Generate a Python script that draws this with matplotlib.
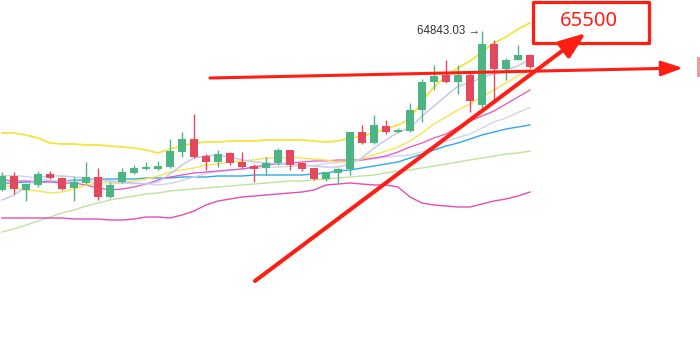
import numpy as np
import matplotlib.pyplot as plt
from matplotlib.patches import Rectangle

# candles (price)
open_ = [61660, 61940, 61660, 61760, 61980, 61900, 61700, 61800, 61920, 61520,
         61820, 62000, 62080, 62080, 62120, 62420, 62680, 62340, 62220, 62400,
         62220, 62140, 62100, 62200, 62460, 62200, 62100, 61880, 62000, 62080,
         62820, 62600, 62940, 62820, 62840, 63260, 63820, 63960, 63820, 63960,
         63360, 64580, 64080, 64260, 64360]
high = [62020, 62020, 61800, 62040, 62040, 61920, 61920, 62220, 62100, 61820,
        62100, 62160, 62220, 62240, 62680, 62820, 63180, 62380, 62460, 62420,
        62420, 62180, 62320, 62500, 62460, 62220, 62100, 62020, 62100, 62820,
        62960, 63160, 63060, 62900, 63400, 63880, 64160, 64260, 64160, 64020,
        64843.03, 64660, 64300, 64560, 64380]
low = [61640, 61580, 61440, 61720, 61880, 61660, 61440, 61780, 61460, 61500,
       61800, 61980, 62060, 62060, 62100, 62320, 62300, 62060, 62120, 62160,
       62100, 61820, 61960, 62160, 62060, 62040, 61860, 61840, 61800, 61960,
       62580, 62580, 62780, 62800, 62820, 63020, 63660, 63800, 63580, 63220,
       63300, 63420, 63860, 64260, 64100]
close = [61940, 61680, 61780, 61980, 61900, 61680, 61820, 61920, 61520, 61760,
         62020, 62100, 62120, 62140, 62440, 62680, 62320, 62220, 62380, 62200,
         62120, 62080, 62200, 62460, 62160, 62080, 61880, 62020, 62080, 62820,
         62600, 62960, 62820, 62860, 63260, 63820, 63940, 63820, 63960, 63440,
         64580, 64080, 64260, 64360, 64120]

# indicator lines
boll_up = [62800, 62800, 62760, 62700, 62600, 62580, 62580, 62560, 62560, 62540,
           62520, 62500, 62460, 62400, 62480, 62540, 62600, 62620, 62620, 62640,
           62640, 62640, 62660, 62660, 62660, 62660, 62640, 62620, 62640, 62700,
           62740, 62800, 62880, 62960, 63080, 63440, 63720, 63940, 64100, 64240,
           64420, 64600, 64720, 64880, 65000]
boll_mid = [61950, 61950, 61930, 61900, 61850, 61840, 61830, 61820, 61820, 61800,
            61790, 61790, 61790, 61760, 61790, 61850, 61920, 61990, 62030, 62060,
            62080, 62090, 62110, 62120, 62130, 62140, 62150, 62190, 62210, 62250,
            62260, 62280, 62320, 62340, 62360, 62420, 62540, 62640, 62710, 62780,
            62900, 63020, 63100, 63210, 63310]
boll_low = [61100, 61100, 61100, 61100, 61100, 61100, 61080, 61080, 61080, 61060,
            61060, 61080, 61120, 61120, 61100, 61160, 61240, 61360, 61440, 61480,
            61520, 61540, 61560, 61580, 61600, 61620, 61660, 61760, 61780, 61800,
            61780, 61760, 61760, 61720, 61520, 61400, 61360, 61340, 61320, 61320,
            61380, 61440, 61480, 61540, 61620]
ma5 = [61460, 61560, 61720, 61920, 61940, 61940, 61920, 61900, 61860, 61840,
       61820, 61800, 61780, 61820, 61980, 62160, 62300, 62340, 62360, 62320,
       62260, 62220, 62200, 62180, 62180, 62160, 62140, 62120, 62120, 62180,
       62300, 62500, 62660, 62820, 62900, 63140, 63340, 63540, 63740, 63800,
       63920, 63980, 64060, 64140, 64280]
ma10 = [61780, 61700, 61660, 61640, 61600, 61620, 61680, 61760, 61800, 61820,
        61820, 61840, 61880, 61940, 62020, 62060, 62100, 62160, 62180, 62220,
        62240, 62260, 62300, 62300, 62320, 62300, 62280, 62260, 62220, 62220,
        62280, 62360, 62440, 62520, 62640, 62800, 62980, 63120, 63260, 63380,
        63520, 63660, 63800, 63940, 64060]
ma20 = [61860, 61840, 61840, 61820, 61820, 61800, 61800, 61760, 61700, 61660,
        61680, 61720, 61780, 61860, 61920, 61960, 62000, 62020, 62040, 62060,
        62080, 62120, 62160, 62180, 62200, 62220, 62240, 62240, 62260, 62260,
        62260, 62300, 62340, 62420, 62520, 62600, 62700, 62780, 62920, 63040,
        63140, 63240, 63380, 63520, 63660]
ma30 = [61800, 61800, 61820, 61820, 61840, 61840, 61860, 61860, 61880, 61880,
        61880, 61880, 61900, 61900, 61900, 61920, 61920, 61920, 61940, 61940,
        61940, 61960, 61960, 61960, 61960, 61960, 61980, 62000, 62040, 62060,
        62100, 62140, 62180, 62220, 62300, 62380, 62460, 62540, 62600, 62680,
        62760, 62820, 62880, 62920, 62960]
ma60 = [60820, 60880, 60960, 61040, 61120, 61200, 61260, 61340, 61400, 61460,
        61500, 61540, 61580, 61600, 61640, 61660, 61680, 61700, 61720, 61740,
        61760, 61780, 61800, 61820, 61840, 61840, 61860, 61880, 61900, 61920,
        61940, 61960, 62000, 62040, 62060, 62100, 62140, 62180, 62220, 62260,
        62300, 62340, 62380, 62400, 62440]

peak_label = "64843.03 →"
target_label = "65500"

UP = '#4db584'
DOWN = '#e4485c'
RED = '#ff1e14'

fig = plt.figure(figsize=(7, 3.6), dpi=100)
ax = fig.add_axes([0, 0, 1, 1])
ax.axis('off')
ax.set_xlim(-1 / 6, 698 / 12)
ax.set_ylim(58260, 65460)

x = np.arange(len(close))
o = np.array(open_)
c = np.array(close)
cols = [UP if cc >= oo else DOWN for oo, cc in zip(o, c)]

# indicator lines under the candles
ax.plot(x, ma60, color='#bfe39b', lw=1.0, zorder=2)
ax.plot(x, ma30, color='#2fa9e6', lw=1.0, zorder=2)
ax.plot(x, boll_mid, color='#d3d3ee', lw=1.0, zorder=2)
ax.plot(x, ma20, color='#e653c2', lw=0.9, zorder=2)
ax.plot(x, ma10, color='#f5e54c', lw=1.0, zorder=2)
ax.plot(x, ma5, color='#c6c9e8', lw=1.1, zorder=2)
ax.plot(x, boll_low, color='#e44bb8', lw=1.0, zorder=2)
ax.plot(x, boll_up, color='#f6e33e', lw=1.3, zorder=2)

ax.vlines(x, low, high, colors=cols, lw=1, zorder=3)
ax.bar(x, np.maximum(np.abs(c - o), 15), bottom=np.minimum(o, c), width=0.7,
       color=cols, zorder=4)

# peak label
ax.text(39.83, 64840, peak_label, ha='right', va='center', fontsize=8.3,
        color='#333333', family=['Liberation Sans', 'DejaVu Sans'], zorder=5)

# hand-drawn annotations
ax.add_patch(Rectangle((44.29, 64610), 53.875 - 44.29, 65430 - 64610,
                       facecolor='white', edgecolor=RED, lw=2.3, zorder=6,
                       joinstyle='round'))
ax.text(48.92, 65040, target_label, ha='center', va='center', fontsize=14.5,
        color=RED, family=['Noto Sans', 'DejaVu Sans'], zorder=7)

ax.annotate('', xy=(56.75, 64100), xytext=(17.33, 63900),
            arrowprops=dict(arrowstyle='-|>,head_length=1.3,head_width=0.45',
                            mutation_scale=10, lw=2.2, color=RED,
                            shrinkA=0, shrinkB=0), zorder=8)
ax.annotate('', xy=(48.67, 64800), xytext=(21.08, 59840),
            arrowprops=dict(arrowstyle='-|>,head_length=1.6,head_width=0.6',
                            mutation_scale=10, lw=2.9, color=RED,
                            shrinkA=0, shrinkB=0), zorder=8)

ax.add_patch(Rectangle((57.92, 63920), 1.0, 400, facecolor='#f49a9a',
                       edgecolor='none', zorder=5))

fig.savefig('out.png', dpi=100)
